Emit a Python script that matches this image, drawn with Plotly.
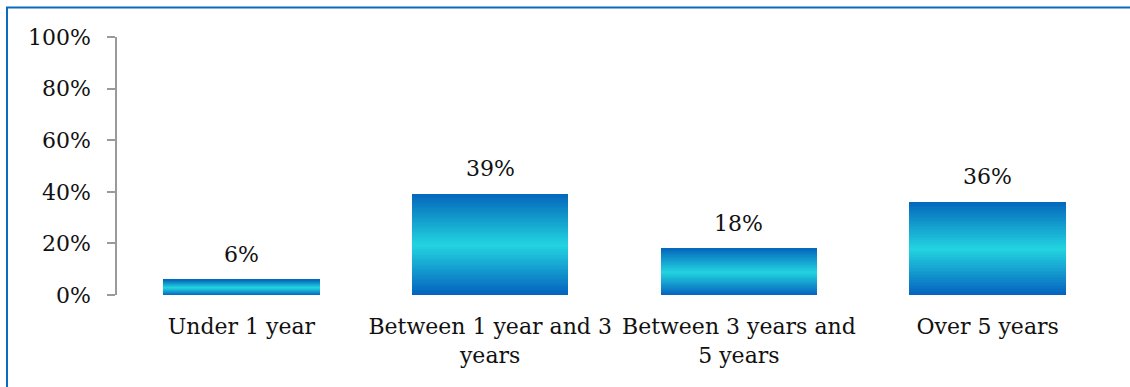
import plotly.graph_objects as go
from plotly.colors import sample_colorscale

# Share of respondents by length of time
categories = ["Under 1 year", "Between 1 year and 3<br>years",
              "Between 3 years and<br>5 years", "Over 5 years"]
values = [0.06, 0.39, 0.18, 0.36]
value_labels = ["6%", "39%", "18%", "36%"]
y_ticks = [0, 0.2, 0.4, 0.6, 0.8, 1.0]

FONT = "DejaVu Serif"
FS = 22
N_SLICES = 60

# Vertical gradient: dark blue at the base, cyan in the middle, dark blue at the top
gradient = [[0.0, "#0560be"], [0.5, "#22d4e0"], [1.0, "#0568bc"]]
slice_colors = sample_colorscale(gradient, [(k + 0.5) / N_SLICES for k in range(N_SLICES)])

fig = go.Figure()
for k in range(N_SLICES):
    fig.add_trace(go.Bar(
        x=categories,
        y=[v / N_SLICES for v in values],
        marker=dict(color=slice_colors[k], line=dict(width=0)),
        showlegend=False,
        hoverinfo="skip",
    ))

for cat, v, lab in zip(categories, values, value_labels):
    fig.add_annotation(x=cat, y=v, text=lab, showarrow=False,
                       yanchor="bottom", yshift=11,
                       font=dict(family=FONT, size=FS, color="#111111"))

plot_l, plot_r, plot_t, plot_b = 117, 18, 37, 92
W, H = 1130, 387
pw, ph = W - plot_l - plot_r, H - plot_t - plot_b

# Outer chart border (top and left edges fall inside the page)
fig.add_shape(type="rect", xref="paper", yref="paper",
              x0=(7 - plot_l) / pw, x1=1.5,
              y0=-1.0, y1=1 + (plot_t - 7.5) / ph,
              line=dict(color="#0a6cc0", width=2), layer="below")

fig.update_layout(
    width=W, height=H,
    barmode="stack", bargap=0.37,
    margin=dict(l=plot_l, r=plot_r, t=plot_t, b=plot_b),
    paper_bgcolor="white", plot_bgcolor="white",
    font=dict(family=FONT, size=FS, color="#111111"),
    xaxis=dict(showline=False, showgrid=False, ticks="",
               ticklabelstandoff=16,
               tickfont=dict(family=FONT, size=FS, color="#111111")),
    yaxis=dict(range=[0, 1], tickvals=y_ticks, tickformat=".0%",
               showgrid=False, zeroline=False,
               showline=True, linecolor="#9a9a9a", linewidth=1.5,
               ticks="outside", ticklen=8, tickcolor="#9a9a9a", tickwidth=1.5,
               ticklabelstandoff=12,
               tickfont=dict(family=FONT, size=FS, color="#111111")),
)

fig.write_html("out.html")
